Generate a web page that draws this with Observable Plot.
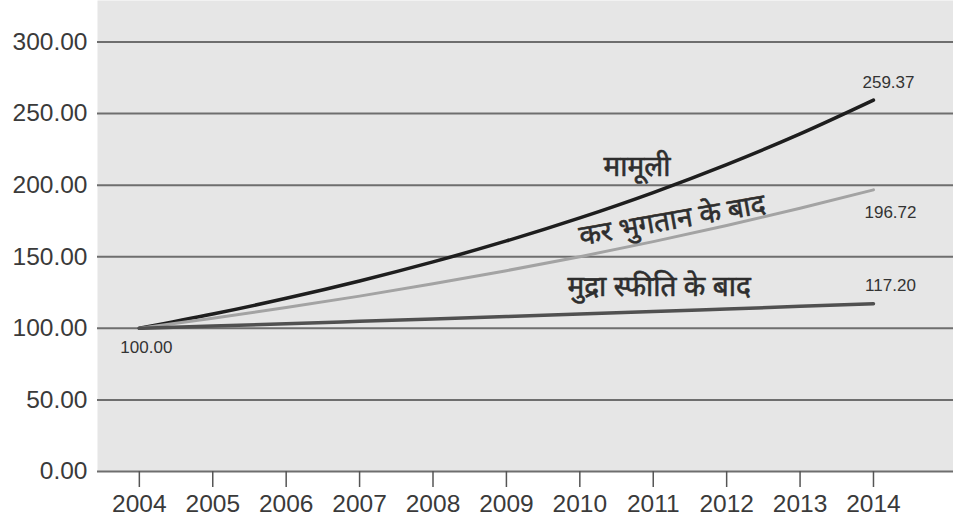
<!DOCTYPE html>
<html>
<head>
<meta charset="utf-8">
<script src="https://cdn.jsdelivr.net/npm/d3@7"></script>
<script src="https://cdn.jsdelivr.net/npm/@observablehq/plot@0.6"></script>
<style>
  html, body { margin: 0; padding: 0; background: #fff; }
  #chart svg { display: block; }
</style>
</head>
<body>
<div id="chart"></div>
<script>
const years = [2004, 2005, 2006, 2007, 2008, 2009, 2010, 2011, 2012, 2013, 2014];
const seriesNames = ["मामूली", "कर भुगतान के बाद", "मुद्रा स्फीति के बाद"];
const nominal = [100.00, 110.00, 121.00, 133.10, 146.41, 161.05, 177.16, 194.87, 214.36, 235.79, 259.37];
const afterTax = [100.00, 107.00, 114.49, 122.50, 131.08, 140.26, 150.07, 160.58, 171.82, 183.85, 196.72];
const afterInflation = [100.00, 101.60, 103.23, 104.88, 106.56, 108.26, 109.99, 111.75, 113.54, 115.36, 117.20];
const yTicks = [0, 50, 100, 150, 200, 250, 300];

const seriesValues = [nominal, afterTax, afterInflation];
const rows = seriesNames.flatMap((s, i) => years.map((yr, j) => ({series: s, year: yr, value: seriesValues[i][j]})));
const ends = seriesNames.map((s, i) => ({series: s, year: years[years.length - 1], value: seriesValues[i][years.length - 1]}));
const start = [{year: years[0], value: nominal[0]}];

const colors = {"मामूली": "#1e1e1e", "कर भुगतान के बाद": "#a3a3a3", "मुद्रा स्फीति के बाद": "#505050"};
const widths = {"मामूली": 3.5, "कर भुगतान के बाद": 3, "मुद्रा स्फीति के बाद": 3.5};
const devFont = "'Noto Sans Devanagari', 'Lohit Devanagari', 'FreeSans', 'Noto Sans', sans-serif";
const hindiStyle = {fontSize: 28, fontFamily: devFont, fill: "#2e2e2e", stroke: "#2e2e2e", strokeWidth: 0.6};

const chart = Plot.plot({
  width: 953,
  height: 525,
  marginLeft: 97,
  marginRight: 0,
  marginTop: 0,
  marginBottom: 54,
  style: {fontFamily: "'Liberation Sans', Arial, sans-serif", color: "#3a3a3a", background: "#fff"},
  x: {domain: [2003.43, 2015.09]},
  y: {domain: [0, 329]},
  marks: [
    Plot.frame({fill: "#e6e6e6", stroke: null}),
    Plot.ruleY(yTicks, {stroke: "#6e6e6e", strokeWidth: 2}),
    Plot.axisY({ticks: yTicks, tickSize: 0, tickPadding: 10, tickFormat: d => d.toFixed(2), fontSize: 24.5, label: null}),
    Plot.axisX({ticks: years, tickSize: 16, tickPadding: 7, tickFormat: d => String(d), fontSize: 24.5, label: null, stroke: "#555", strokeWidth: 1.5}),
    ...seriesNames.map(s => Plot.line(rows.filter(r => r.series === s), {x: "year", y: "value", stroke: colors[s], strokeWidth: widths[s], curve: "monotone-x"})),
    Plot.text([ends[0]], {x: "year", y: "value", text: d => d.value.toFixed(2), dx: 15, dy: -18, fontSize: 17, fill: "#333"}),
    Plot.text([ends[1]], {x: "year", y: "value", text: d => d.value.toFixed(2), dx: 17, dy: 23, fontSize: 17, fill: "#333"}),
    Plot.text([ends[2]], {x: "year", y: "value", text: d => d.value.toFixed(2), dx: 17, dy: -18, fontSize: 17, fill: "#333"}),
    Plot.text(start, {x: "year", y: "value", text: d => d.value.toFixed(2), dx: 7, dy: 19, fontSize: 17, fill: "#333"}),
    Plot.text([seriesNames[0]], {x: [2010.78], y: [212.6], text: d => d, ...hindiStyle}),
    Plot.text([seriesNames[1]], {x: [2011.26], y: [175.5], text: d => d, rotate: -10, ...hindiStyle}),
    Plot.text([seriesNames[2]], {x: [2011.08], y: [128.7], text: d => d, ...hindiStyle})
  ]
});
document.getElementById("chart").append(chart);
</script>
</body>
</html>
